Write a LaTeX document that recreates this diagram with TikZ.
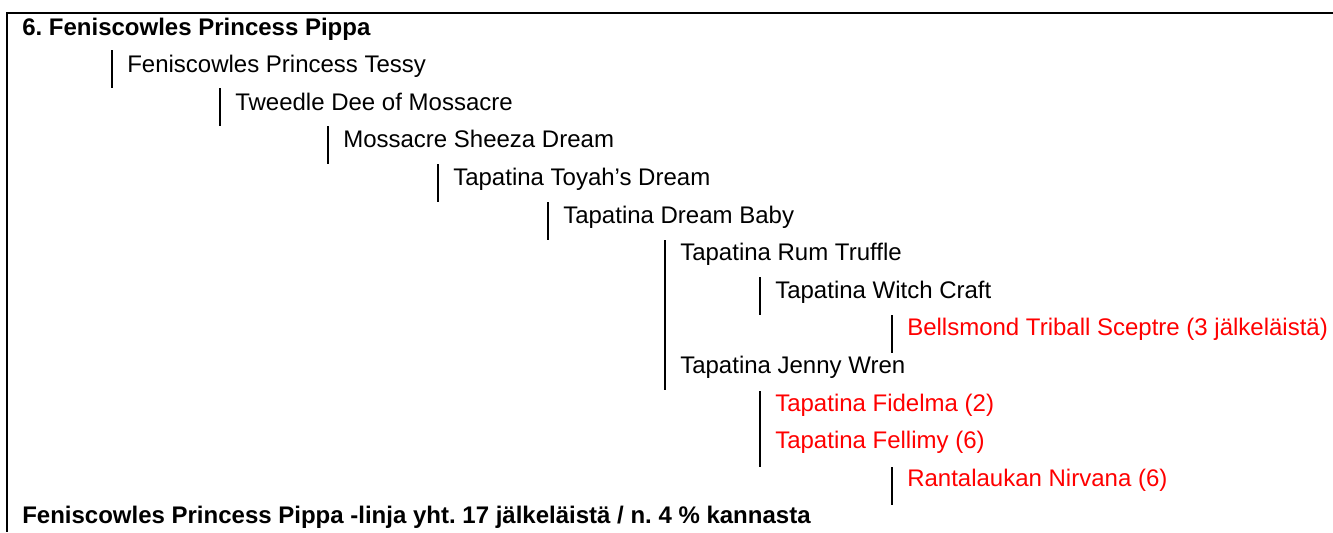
\documentclass[tikz,border=0pt]{standalone}
\usepackage{fontspec}
\setmainfont{Liberation Sans}
\usetikzlibrary{positioning}
\frenchspacing

\begin{document}
\begin{tikzpicture}[x=0.75pt,y=-0.75pt,
	dog/.style={anchor=base west,inner sep=0pt,font=\fontsize{18}{21}\selectfont},
	headline/.style={dog,font=\fontsize{18}{21}\selectfont\bfseries},
	living/.style={dog,text=red},
	vbar/.style={line width=1.5pt},
	frame/.style={line width=1.5pt}]
	
	\useasboundingbox (0,0) rectangle (1333,532);
	\draw[frame] (1333,13) -- (7,13) -- (7,532);
	
	\node [headline] (top) at (22, 35) {6. Feniscowles Princess Pippa};
	\node [dog] (tessy) at (127, 72.6) {Feniscowles Princess Tessy};
	\node [dog] (tweedle) at (235, 110.2) {Tweedle Dee of Mossacre};
	\node [dog] (sheeza) at (343, 147.8) {Mossacre Sheeza Dream};
	\node [dog] (toyah) at (453, 185.4) {Tapatina Toyah’s Dream};
	\node [dog] (baby) at (563, 223) {Tapatina Dream Baby};
	\node [dog] (truffle) at (680, 260.6) {Tapatina Rum Truffle};
	\node [dog] (witch) at (775, 298.2) {Tapatina Witch Craft};
	\node [living] (bellsmond) at (907, 335.8) {Bellsmond Triball Sceptre (3 jälkeläistä)};
	\node [dog] (jenny) at (680, 373.4) {Tapatina Jenny Wren};
	\node [living] (fidelma) at (775, 411) {Tapatina Fidelma (2)};
	\node [living] (fellimy) at (775, 448.6) {Tapatina Fellimy (6)};
	\node [living] (nirvana) at (907, 486.2) {Rantalaukan Nirvana (6)};
	\node [headline] (total) at (22, 523.6) {Feniscowles Princess Pippa -linja yht. 17 jälkeläistä / n. 4 \% kannasta};
	
	\draw[vbar] (112, 50) -- (112, 88);
	\draw[vbar] (220, 88) -- (220, 126);
	\draw[vbar] (328, 126) -- (328, 164);
	\draw[vbar] (438, 164) -- (438, 202);
	\draw[vbar] (548, 202) -- (548, 240);
	\draw[vbar] (665, 240) -- (665, 390);
	\draw[vbar] (760, 277) -- (760, 315);
	\draw[vbar] (892, 315) -- (892, 353);
	\draw[vbar] (760, 391) -- (760, 467);
	\draw[vbar] (892, 467) -- (892, 505);
\end{tikzpicture}
\end{document}
